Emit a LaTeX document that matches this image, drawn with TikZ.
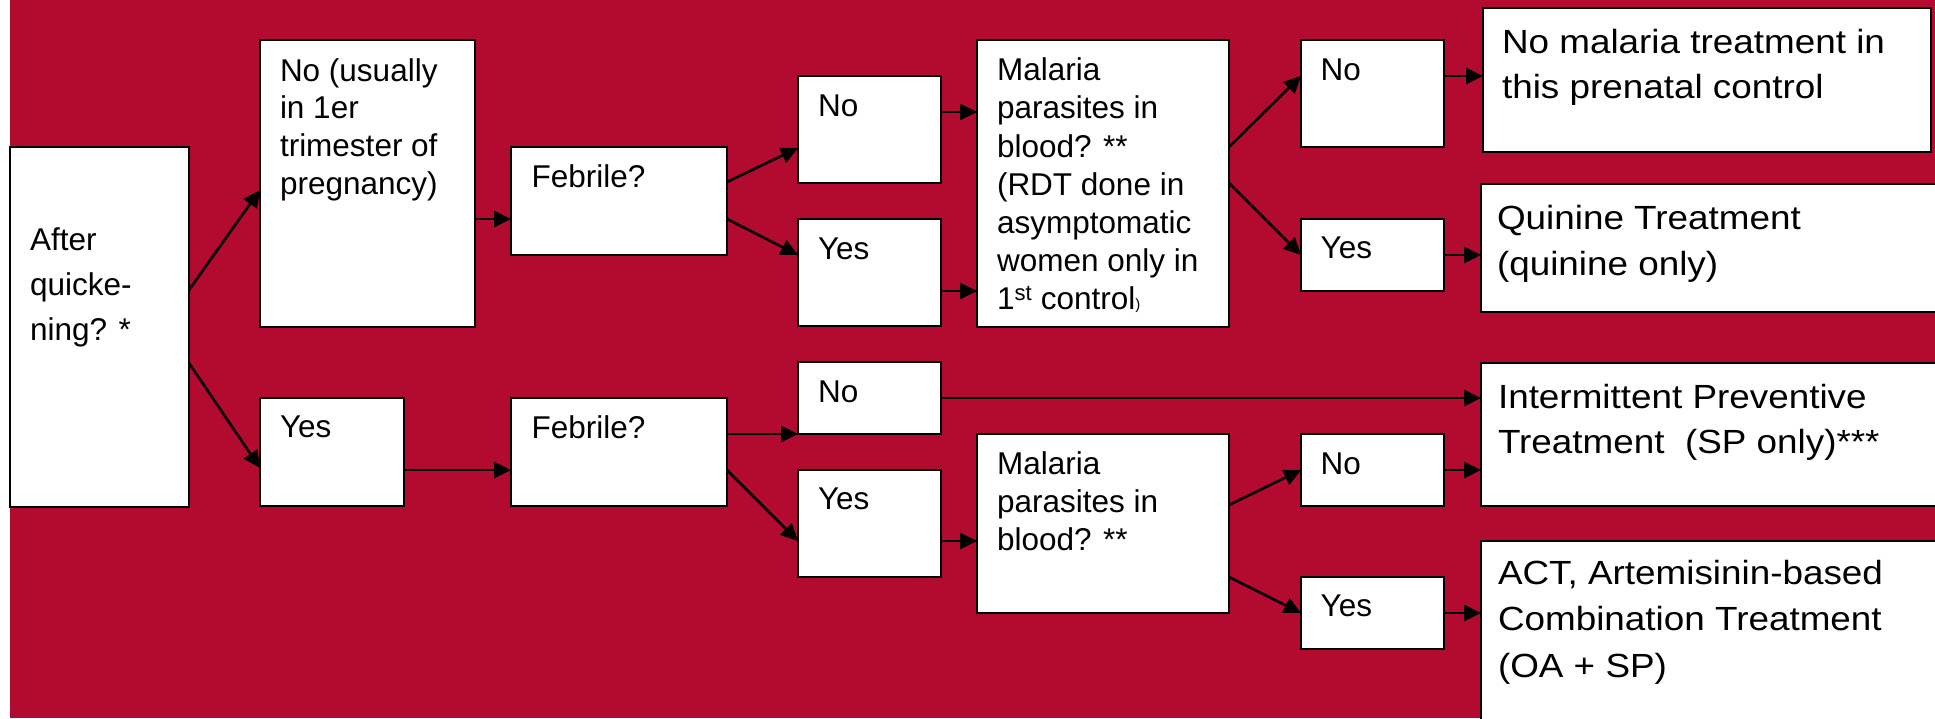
\documentclass[tikz,border=0pt]{standalone}
\usepackage{fontspec}
\setmainfont{Liberation Sans}
\newfontfamily\rfont[FakeStretch=1.1]{Liberation Sans}
\usetikzlibrary{arrows.meta}
\definecolor{bgred}{RGB}{179,10,48}
\newcommand{\mystrutL}{\rule{0pt}{30pt}}
\newcommand{\mystrutR}{\rule{0pt}{32pt}}
\begin{document}
\begin{tikzpicture}[x=1pt,y=-1pt,
  flowbox/.style={draw=black,fill=white,line width=2.8pt,inner sep=0pt,outer sep=0pt,anchor=north west},
  lbl/.style={anchor=north west,inner sep=0pt,outer sep=0pt,align=left,font=\fontsize{31.5}{37.8}\selectfont},
  rlbl/.style={anchor=north west,inner sep=0pt,outer sep=0pt,align=left,font=\rfont\fontsize{33.5}{45.5}\selectfont},
  conn/.style={draw=black,line width=2.6pt,-{Triangle[length=17pt,width=16pt]}}]
\useasboundingbox (0,0) rectangle (1935,718);
\clip (0,0) rectangle (1935,718);
\fill[white] (0,0) rectangle (1935,718);
\fill[bgred] (10,0) rectangle (1935,718);

% boxes
\node[flowbox,minimum width=179pt,minimum height=360pt] (after) at (10,147) {};
\node[flowbox,minimum width=215pt,minimum height=287pt] (nou) at (260,40) {};
\node[flowbox,minimum width=144pt,minimum height=108pt] (yesl) at (260,398) {};
\node[flowbox,minimum width=216pt,minimum height=108pt] (feb1) at (511,147) {};
\node[flowbox,minimum width=216pt,minimum height=108pt] (feb2) at (511,398) {};
\node[flowbox,minimum width=143pt,minimum height=107pt] (no1) at (798,76) {};
\node[flowbox,minimum width=143pt,minimum height=107pt] (yes1) at (798,219) {};
\node[flowbox,minimum width=143pt,minimum height=72pt] (no2) at (798,362) {};
\node[flowbox,minimum width=143pt,minimum height=107pt] (yes2) at (798,470) {};
\node[flowbox,minimum width=252pt,minimum height=287pt] (mal1) at (977,40) {};
\node[flowbox,minimum width=252pt,minimum height=179pt] (mal2) at (977,434) {};
\node[flowbox,minimum width=143pt,minimum height=107pt] (no3) at (1301,40) {};
\node[flowbox,minimum width=143pt,minimum height=72pt] (yes3) at (1301,219) {};
\node[flowbox,minimum width=143pt,minimum height=72pt] (no4) at (1301,434) {};
\node[flowbox,minimum width=143pt,minimum height=72pt] (yes4) at (1301,577) {};
\node[flowbox,minimum width=448pt,minimum height=144pt] (notreat) at (1483,8) {};
\node[flowbox,minimum width=470pt,minimum height=128pt] (quin) at (1481,184) {};
\node[flowbox,minimum width=470pt,minimum height=143pt] (ipt) at (1481,363) {};
\node[flowbox,minimum width=470pt,minimum height=200pt] (act) at (1481,541) {};

% connectors
\draw[conn] (after.east |- 0,290) -- (nou.west |- 0,190);
\draw[conn] (after.east |- 0,363) -- (yesl.west |- 0,468);
\draw[conn] (nou.east |- 0,219) -- (feb1.west |- 0,219);
\draw[conn] (yesl.east |- 0,470) -- (feb2.west |- 0,470);
\draw[conn] (feb1.east |- 0,182) -- (no1.west |- 0,148);
\draw[conn] (feb1.east |- 0,219) -- (yes1.west |- 0,255);
\draw[conn] (no1.east |- 0,112) -- (mal1.west |- 0,112);
\draw[conn] (yes1.east |- 0,291) -- (mal1.west |- 0,291);
\draw[conn] (feb2.east |- 0,434) -- (no2.west |- 0,434);
\draw[conn] (feb2.east |- 0,470) -- (yes2.west |- 0,541);
\draw[conn] (yes2.east |- 0,541) -- (mal2.west |- 0,541);
\draw[conn] (no2.east |- 0,398) -- (ipt.west |- 0,398);
\draw[conn] (mal1.east |- 0,147) -- (no3.west |- 0,76);
\draw[conn] (mal1.east |- 0,183) -- (yes3.west |- 0,255);
\draw[conn] (no3.east |- 0,76) -- (notreat.west |- 0,76);
\draw[conn] (yes3.east |- 0,255) -- (quin.west |- 0,255);
\draw[conn] (mal2.east |- 0,505) -- (no4.west |- 0,470);
\draw[conn] (mal2.east |- 0,577) -- (yes4.west |- 0,613);
\draw[conn] (no4.east |- 0,470) -- (ipt.west |- 0,470);
\draw[conn] (yes4.east |- 0,613) -- (act.west |- 0,613);

% texts
\node[lbl,font=\fontsize{31.5}{44.7}\selectfont] (after-t) at (30,220.7) {\mystrutL After\\quicke-\\ning? *};
\node[lbl] (nou-t) at (280,51) {\mystrutL No (usually\\in 1er\\trimester of\\pregnancy)};
\node[lbl] (yesl-t) at (280,407.3) {\mystrutL Yes};
\node[lbl] (feb1-t) at (531.7,157.7) {\mystrutL Febrile?};
\node[lbl] (feb2-t) at (531.7,408.3) {\mystrutL Febrile?};
\node[lbl] (no1-t) at (818,86) {\mystrutL No};
\node[lbl] (yes1-t) at (818,229.3) {\mystrutL Yes};
\node[lbl] (no2-t) at (818,372.3) {\mystrutL No};
\node[lbl] (yes2-t) at (818,479.3) {\mystrutL Yes};
\node[lbl,font=\fontsize{31.5}{38.2}\selectfont] (mal1-t) at (997,50.7) {\mystrutL Malaria\\parasites in\\blood? **\\(RDT done in\\asymptomatic\\women only in\\1\textsuperscript{st} control{\fontsize{15}{15}\selectfont)}};
\node[lbl,font=\fontsize{31.5}{38}\selectfont] (mal2-t) at (997,444.3) {\mystrutL Malaria\\parasites in\\blood? **};
\node[lbl] (no3-t) at (1320.6,50) {\mystrutL No};
\node[lbl] (yes3-t) at (1320.6,228.3) {\mystrutL Yes};
\node[lbl] (no4-t) at (1320.6,444.3) {\mystrutL No};
\node[lbl] (yes4-t) at (1320.6,586.7) {\mystrutL Yes};
\node[rlbl,font=\rfont\fontsize{33.5}{45}\selectfont] (notreat-t) at (1502,21.3) {\mystrutR No malaria treatment in\\this prenatal control};
\node[rlbl,font=\rfont\fontsize{33.5}{46}\selectfont] (quin-t) at (1497,197) {\mystrutR Quinine Treatment\\(quinine only)};
\node[rlbl,font=\rfont\fontsize{33.5}{45}\selectfont] (ipt-t) at (1498,376) {\mystrutR Intermittent Preventive\\Treatment\ \ (SP only)***};
\node[rlbl,font=\rfont\fontsize{33.5}{46.5}\selectfont] (act-t) at (1498,552) {\mystrutR ACT, Artemisinin-based\\Combination Treatment\\(OA + SP)};
\end{tikzpicture}
\end{document}
